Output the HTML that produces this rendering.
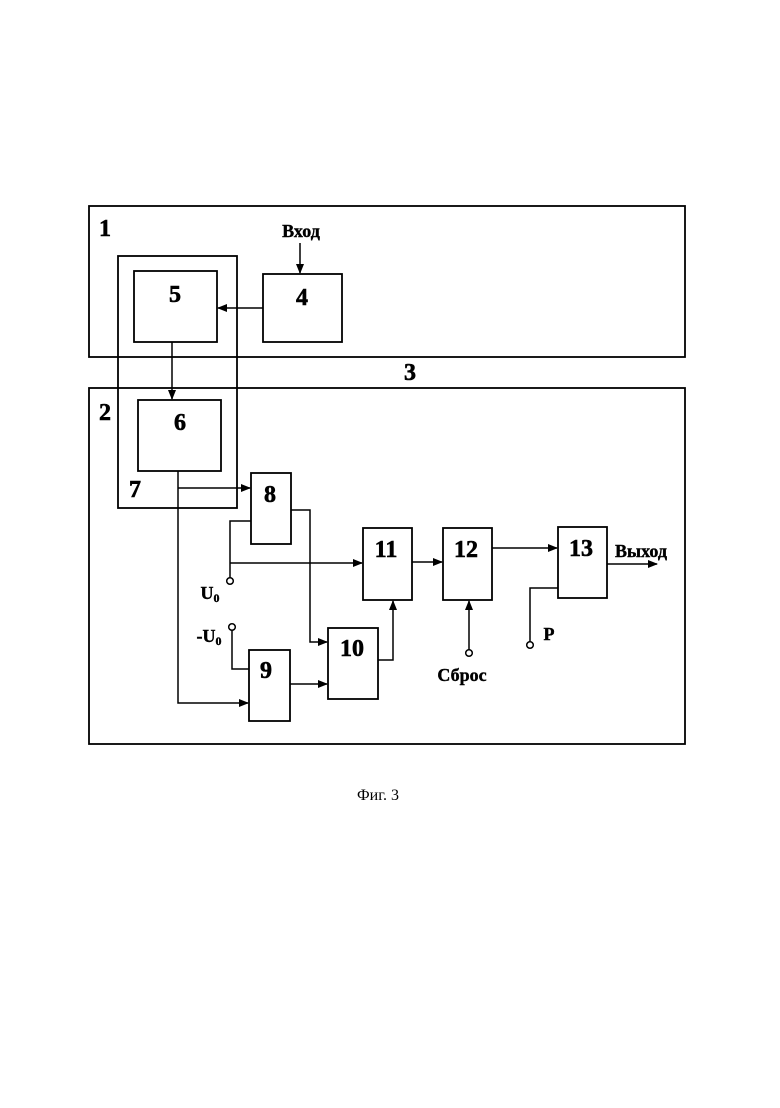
<!DOCTYPE html>
<html><head><meta charset="utf-8"><style>body{margin:0;background:#fff}</style></head><body>
<svg width="780" height="1103" viewBox="0 0 780 1103" xmlns="http://www.w3.org/2000/svg">
<defs><marker id="a" markerWidth="10" markerHeight="8" refX="9" refY="4" orient="auto" markerUnits="userSpaceOnUse"><path d="M0,0 L10,4 L0,8 z" fill="#000"/></marker></defs>
<g fill="none" stroke="#000" stroke-width="1.8">
<rect x="89" y="206" width="596" height="151"/>
<rect x="89" y="388" width="596" height="356"/>
<rect x="118" y="256" width="119" height="252"/>
<rect x="134" y="271" width="83" height="71"/>
<rect x="263" y="274" width="79" height="68"/>
<rect x="138" y="400" width="83" height="71"/>
<rect x="251" y="473" width="40" height="71"/>
<rect x="363" y="528" width="49" height="72"/>
<rect x="443" y="528" width="49" height="72"/>
<rect x="558" y="527" width="49" height="71"/>
<rect x="328" y="628" width="50" height="71"/>
<rect x="249" y="650" width="41" height="71"/>
</g>
<g fill="none" stroke="#000" stroke-width="1.5">
<line x1="300" y1="243" x2="300" y2="273" marker-end="url(#a)"/>
<line x1="263" y1="308" x2="218" y2="308" marker-end="url(#a)"/>
<line x1="172" y1="342" x2="172" y2="399" marker-end="url(#a)"/>
<polyline points="178,471 178,703 248,703" marker-end="url(#a)"/>
<line x1="178" y1="488" x2="250" y2="488" marker-end="url(#a)"/>
<polyline points="291,510 310,510 310,642 327,642" marker-end="url(#a)"/>
<polyline points="251,521 230,521 230,578"/>
<line x1="230" y1="563" x2="362" y2="563" marker-end="url(#a)"/>
<polyline points="232,630 232,669 249,669"/>
<line x1="290" y1="684" x2="327" y2="684" marker-end="url(#a)"/>
<polyline points="378,660 393,660 393,601" marker-end="url(#a)"/>
<line x1="412" y1="562" x2="442" y2="562" marker-end="url(#a)"/>
<line x1="492" y1="548" x2="557" y2="548" marker-end="url(#a)"/>
<line x1="469" y1="650" x2="469" y2="601" marker-end="url(#a)"/>
<polyline points="530,642 530,588 558,588"/>
<line x1="607" y1="564" x2="657" y2="564" marker-end="url(#a)"/>
<circle cx="230" cy="581" r="3.3" fill="#fff"/>
<circle cx="232" cy="627" r="3.3" fill="#fff"/>
<circle cx="469" cy="653" r="3.3" fill="#fff"/>
<circle cx="530" cy="645" r="3.3" fill="#fff"/>
</g>
<g font-family="Liberation Serif, serif" font-weight="bold" font-size="24" text-anchor="middle" stroke="#000" stroke-width="0.6">
<text x="105" y="236">1</text><text x="105" y="420">2</text><text x="410" y="380">3</text><text x="135" y="497">7</text>
<text x="175" y="302">5</text><text x="302" y="305">4</text><text x="180" y="430">6</text>
<text x="270" y="502">8</text><text x="386" y="557">11</text><text x="466" y="557">12</text><text x="581" y="556">13</text>
<text x="352" y="656">10</text><text x="266" y="678">9</text>
</g>
<g font-family="Liberation Serif, serif" font-weight="bold" font-size="18" text-anchor="middle" stroke="#000" stroke-width="0.4">
<text x="301" y="237">Вход</text>
<text x="641" y="557">Выход</text>
<text x="462" y="681">Сброс</text>
<text x="549" y="640">P</text>
<text x="210" y="599">U<tspan font-size="12" dy="3">0</tspan></text>
<text x="209" y="642">-U<tspan font-size="12" dy="3">0</tspan></text>
</g>
<text x="378" y="800" font-family="Liberation Serif, serif" font-size="16" text-anchor="middle">Фиг. 3</text>
</svg>
</body></html>
